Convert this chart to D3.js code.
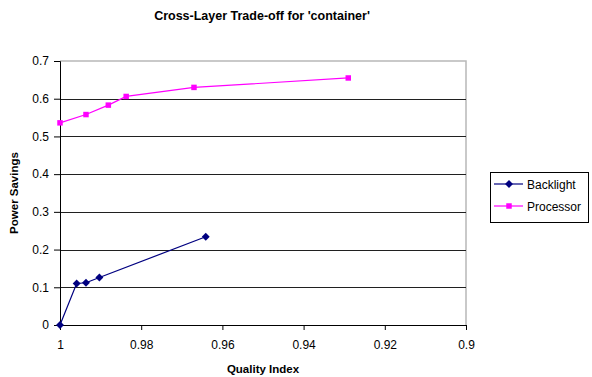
<!DOCTYPE html>
<html>
<head>
<meta charset="utf-8">
<script src="https://cdn.jsdelivr.net/npm/d3@7/dist/d3.min.js"></script>
<style>
  html, body { margin: 0; padding: 0; background: #fff; }
  svg { display: block; }
</style>
</head>
<body>
<svg id="chart" width="592" height="377"></svg>
<script>
// Quality index (x) and power savings (y) for each layer
const backlightQuality = [1.0, 0.9959, 0.9936, 0.9903, 0.9641];
const backlightSavings = [0.0, 0.110, 0.112, 0.126, 0.234];
const processorQuality = [1.0, 0.9936, 0.9881, 0.9837, 0.9670, 0.9290];
const processorSavings = [0.536, 0.558, 0.583, 0.606, 0.630, 0.655];
const xTicks = [1, 0.98, 0.96, 0.94, 0.92, 0.9];
const yTicks = [0, 0.1, 0.2, 0.3, 0.4, 0.5, 0.6, 0.7];
const seriesNames = ["Backlight", "Processor"];
const seriesColors = ["#000080", "#ff00ff"];

const svg = d3.select("#chart");
const plot = { left: 60, right: 466, top: 61, bottom: 325 };

// x runs from 1 down to 0.9 (reversed axis)
const x = d3.scaleLinear().domain([1, 0.9]).range([plot.left, plot.right]);
const y = d3.scaleLinear().domain([0, 0.7]).range([plot.bottom, plot.top]);

const font = "Liberation Sans, Arial, sans-serif";

// Title
svg.append("text")
  .attr("x", 262).attr("y", 20)
  .attr("text-anchor", "middle")
  .attr("font-family", font).attr("font-weight", "bold").attr("font-size", 12.5)
  .text("Cross-Layer Trade-off for 'container'");

// Plot area border (top and right)
svg.append("path")
  .attr("d", `M${plot.left},${plot.top}H${plot.right}V${plot.bottom}`)
  .attr("fill", "none").attr("stroke", "#b8b8b8").attr("stroke-width", 1.5);

// Horizontal gridlines
svg.append("g")
  .selectAll("line")
  .data(yTicks.filter(t => t > 0 && t < 0.7))
  .join("line")
  .attr("x1", plot.left).attr("x2", plot.right)
  .attr("y1", d => Math.round(y(d)) + 0.5).attr("y2", d => Math.round(y(d)) + 0.5)
  .attr("stroke", "#202020").attr("stroke-width", 1);

// Y axis
const yAxis = svg.append("g")
  .attr("transform", `translate(${plot.left},0)`)
  .call(d3.axisLeft(y).tickValues(yTicks).tickSize(6).tickPadding(5)
    .tickFormat(d => d === 0 ? "0" : d3.format(".1f")(d)));
yAxis.select(".domain").attr("stroke", "#000");
yAxis.selectAll(".tick line").attr("stroke", "#000");
yAxis.selectAll("text").attr("font-family", font).attr("font-size", 12).attr("fill", "#000");

// X axis
const xAxis = svg.append("g")
  .attr("transform", `translate(0,${plot.bottom})`)
  .call(d3.axisBottom(x).tickValues(xTicks).tickSize(5).tickPadding(10)
    .tickFormat(d => d === 1 ? "1" : (d === 0.9 ? "0.9" : d3.format(".2f")(d))));
xAxis.select(".domain").attr("stroke", "#000");
xAxis.selectAll(".tick line").attr("stroke", "#000");
xAxis.selectAll("text").attr("font-family", font).attr("font-size", 12).attr("fill", "#000");

// Axis titles
svg.append("text")
  .attr("x", 263).attr("y", 373)
  .attr("text-anchor", "middle")
  .attr("font-family", font).attr("font-weight", "bold").attr("font-size", 11.5)
  .text("Quality Index");
svg.append("text")
  .attr("transform", `translate(18,${(plot.top + plot.bottom) / 2}) rotate(-90)`)
  .attr("text-anchor", "middle")
  .attr("font-family", font).attr("font-weight", "bold").attr("font-size", 11.5)
  .text("Power Savings");

const series = [
  { name: seriesNames[0], color: seriesColors[0], shape: d3.symbolDiamond2, size: 40,
    pts: backlightQuality.map((q, i) => [q, backlightSavings[i]]) },
  { name: seriesNames[1], color: seriesColors[1], shape: d3.symbolSquare, size: 30,
    pts: processorQuality.map((q, i) => [q, processorSavings[i]]) }
];

const line = d3.line().x(d => x(d[0])).y(d => y(d[1]));

series.forEach(s => {
  svg.append("path")
    .datum(s.pts)
    .attr("d", line)
    .attr("fill", "none").attr("stroke", s.color).attr("stroke-width", 1.2);
  svg.append("g").selectAll("path")
    .data(s.pts)
    .join("path")
    .attr("transform", d => `translate(${x(d[0])},${y(d[1])})`)
    .attr("d", d3.symbol().type(s.shape).size(s.size))
    .attr("fill", s.color);
});

// Legend
const legend = svg.append("g").attr("transform", "translate(490,172)");
legend.append("rect")
  .attr("x", 0.5).attr("y", 0.5).attr("width", 98).attr("height", 50)
  .attr("fill", "#fff").attr("stroke", "#000").attr("stroke-width", 1);
series.forEach((s, i) => {
  const cy = 12 + i * 22;
  legend.append("line")
    .attr("x1", 4).attr("x2", 33).attr("y1", cy).attr("y2", cy)
    .attr("stroke", s.color).attr("stroke-width", 1.2);
  legend.append("path")
    .attr("transform", `translate(19,${cy})`)
    .attr("d", d3.symbol().type(s.shape).size(s.size))
    .attr("fill", s.color);
  legend.append("text")
    .attr("x", 37).attr("y", cy + 4.5)
    .attr("font-family", font).attr("font-size", 12)
    .text(s.name);
});
</script>
</body>
</html>
